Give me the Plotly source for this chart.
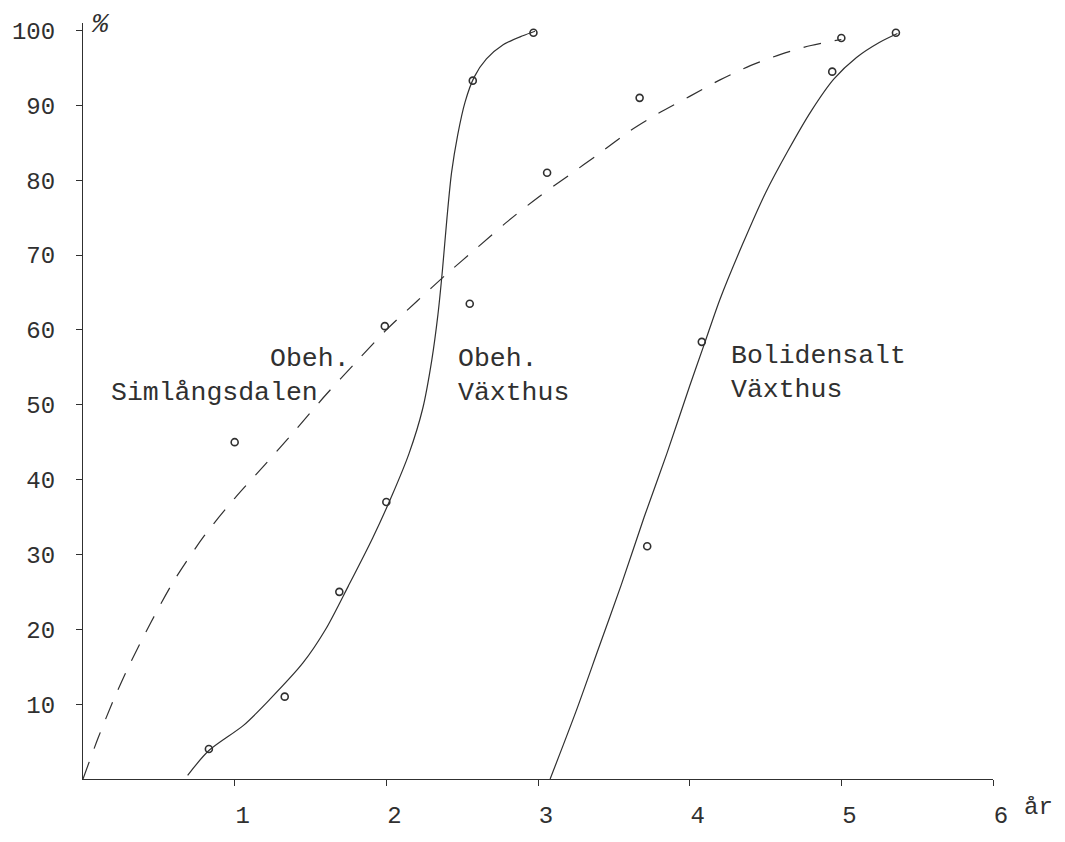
import plotly.graph_objects as go

# ---- data ----
# Obeh. Simlångsdalen (dashed curve + observed points)
sim_curve_x = [0.0, 0.1, 0.2, 0.3, 0.45, 0.6, 0.8, 1.0, 1.2, 1.4, 1.6, 1.8, 2.0, 2.2, 2.4,
               2.6, 2.8, 3.0, 3.2, 3.4, 3.6, 3.8, 4.0, 4.2, 4.4, 4.6, 4.8, 5.0]
sim_curve_y = [0.0, 5.5, 10.5, 15.0, 21.0, 26.5, 32.5, 37.5, 42.0, 46.6, 51.3, 55.7, 60.0, 63.8, 67.5,
               71.0, 74.5, 77.7, 80.6, 83.5, 86.5, 89.0, 91.2, 93.4, 95.3, 96.8, 98.0, 98.8]
sim_pts_x = [1.0, 1.99, 2.55, 3.06, 3.67, 5.0]
sim_pts_y = [45, 60.5, 63.5, 81, 91, 99]

# Obeh. Växthus (solid curve + observed points)
vax_curve_x = [0.69, 0.83, 1.06, 1.23, 1.45, 1.60, 1.75, 1.91, 2.04, 2.15, 2.24, 2.30, 2.34,
               2.37, 2.40, 2.43, 2.47, 2.52, 2.58, 2.66, 2.77, 2.90, 2.98]
vax_curve_y = [0.5, 3.8, 7.2, 10.6, 15.5, 20.0, 25.8, 32.2, 38.0, 43.5, 49.5, 56.0, 62.0,
               68.0, 75.0, 81.0, 86.0, 90.5, 93.8, 96.2, 98.1, 99.3, 99.9]
vax_pts_x = [0.83, 1.33, 1.69, 2.0, 2.57, 2.97]
vax_pts_y = [4, 11, 25, 37, 93.3, 99.7]

# Bolidensalt Växthus (solid curve + observed points)
bol_curve_x = [3.08, 3.25, 3.40, 3.55, 3.70, 3.85, 4.00, 4.10, 4.20, 4.35, 4.50, 4.65, 4.80,
               4.95, 5.10, 5.25, 5.37]
bol_curve_y = [0.0, 9.0, 17.5, 26.0, 35.0, 43.5, 52.5, 58.3, 64.1, 71.5, 78.3, 84.0, 89.2,
               93.5, 96.4, 98.4, 99.6]
bol_pts_x = [3.72, 4.08, 4.94, 5.36]
bol_pts_y = [31.1, 58.4, 94.5, 99.7]

x_ticks = [1, 2, 3, 4, 5, 6]
y_ticks = [10, 20, 30, 40, 50, 60, 70, 80, 90, 100]

NB = "\u00a0"
labels = [
    (NB * 10 + "Obeh.<br>Simlångsdalen", 0.17, 53.9),
    ("Obeh.<br>Växthus", 2.46, 53.9),
    ("Bolidensalt<br>Växthus", 4.26, 54.2),
]

INK = "#303030"
FONT = "Liberation Mono"

W, H = 1065, 842
ML, MR, MT, MB = 79, 72, 23, 46
PW, PH = W - ML - MR, H - MT - MB


def paper_xy(px, py):
    return (px - ML) / PW, 1 - (py - MT) / PH


fig = go.Figure()

fig.add_trace(go.Scatter(x=sim_curve_x, y=sim_curve_y, mode="lines",
                         line=dict(color=INK, width=1.2, dash="18px,14px", shape="spline", smoothing=0.8),
                         hoverinfo="skip", showlegend=False))
fig.add_trace(go.Scatter(x=vax_curve_x, y=vax_curve_y, mode="lines",
                         line=dict(color=INK, width=1.2, shape="spline", smoothing=0.8),
                         hoverinfo="skip", showlegend=False))
fig.add_trace(go.Scatter(x=bol_curve_x, y=bol_curve_y, mode="lines",
                         line=dict(color=INK, width=1.2, shape="spline", smoothing=0.8),
                         hoverinfo="skip", showlegend=False))

for px, py in [(sim_pts_x, sim_pts_y), (vax_pts_x, vax_pts_y), (bol_pts_x, bol_pts_y)]:
    fig.add_trace(go.Scatter(x=px, y=py, mode="markers",
                             marker=dict(symbol="circle-open", size=7, color=INK, line=dict(width=1.6, color=INK)),
                             showlegend=False, cliponaxis=False))

for txt, x, y in labels:
    fig.add_annotation(x=x, y=y, xref="x", yref="y", text=txt, showarrow=False,
                       xanchor="left", yanchor="middle", align="left",
                       font=dict(family=FONT, size=26.5, color=INK))

px_, py_ = paper_xy(97, 25)
fig.add_annotation(x=px_, y=py_, xref="paper", yref="paper", text="<i>%</i>", showarrow=False,
                   xanchor="center", yanchor="middle",
                   font=dict(family=FONT, size=27, color=INK))
px_, py_ = paper_xy(1022, 825)
fig.add_annotation(x=px_, y=py_, xref="paper", yref="paper", text="år", showarrow=False,
                   xanchor="left", yanchor="middle",
                   font=dict(family=FONT, size=24, color=INK))

fig.update_layout(
    width=W, height=H,
    margin=dict(l=ML, r=MR, t=MT, b=MB),
    paper_bgcolor="white", plot_bgcolor="white",
    font=dict(family=FONT, size=24, color=INK),
    xaxis=dict(range=[0, 6], tickvals=x_ticks, ticktext=[str(v) for v in x_ticks],
               showgrid=False, zeroline=False, showline=True, linecolor=INK, linewidth=1.2,
               ticks="outside", ticklen=6, tickcolor=INK, tickwidth=1.2,
               ticklabelstandoff=8, ticklabelshift=8,
               tickfont=dict(family=FONT, size=24, color=INK)),
    yaxis=dict(range=[0, 101], tickvals=y_ticks, ticktext=[str(v) for v in y_ticks],
               showgrid=False, zeroline=False, showline=True, linecolor=INK, linewidth=1.2,
               ticks="outside", ticklen=6, tickcolor=INK, tickwidth=1.2,
               ticklabelstandoff=16, tickfont=dict(family=FONT, size=24, color=INK)),
)

# remove the browser's default 8px page margin so the figure sits at the window's corner
fig.write_html("out.html", config={"displayModeBar": False},
               post_script="document.body.style.margin='0';document.body.style.overflow='hidden';")
